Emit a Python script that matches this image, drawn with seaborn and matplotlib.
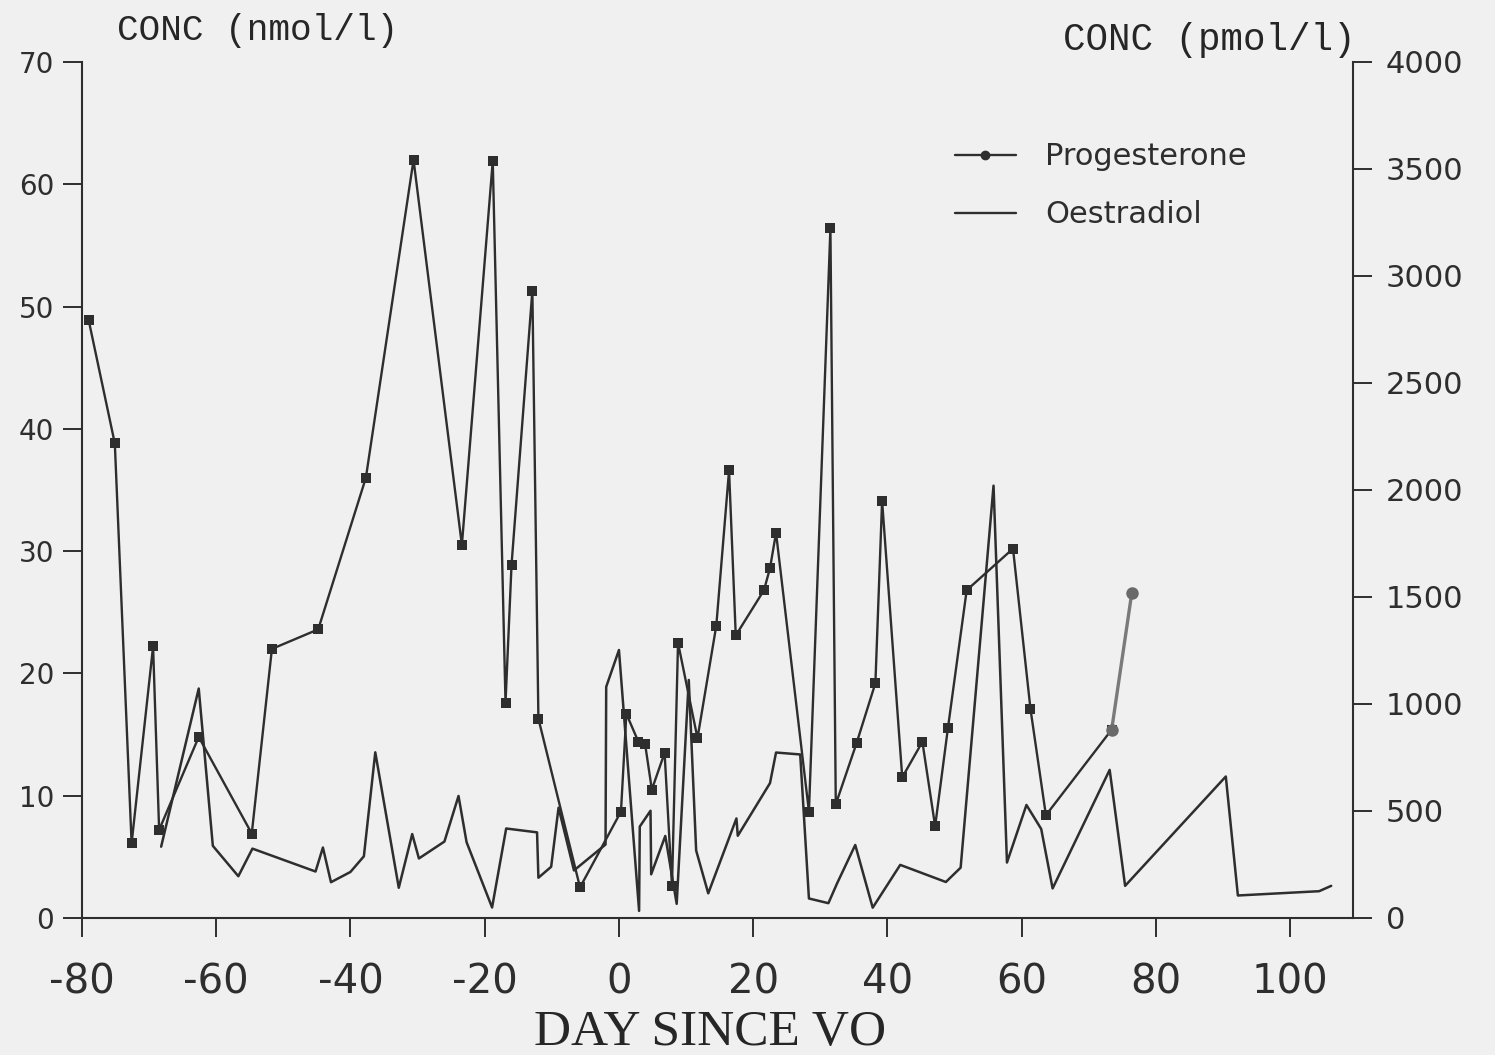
import matplotlib
matplotlib.use("Agg")
import matplotlib.pyplot as plt
import pandas as pd
import seaborn as sns
from matplotlib.lines import Line2D

# Progesterone, nmol/l, against day since VO
prog_day = [-79, -75.1, -72.6, -69.4, -68.5, -62.6, -54.7, -51.7, -44.8, -37.7,
            -30.6, -23.4, -18.8, -16.9, -16.0, -12.9, -12.0, -5.8, 0.3, 1.1,
            2.9, 3.9, 4.9, 6.8, 7.9, 8.8, 11.7, 14.5, 16.4, 17.4,
            21.6, 22.5, 23.4, 28.3, 31.5, 32.3, 35.4, 38.2, 39.2, 42.2,
            45.2, 47.1, 49.0, 51.8, 58.7, 61.3, 63.6, 73.4, 76.4]
prog_val = [48.9, 38.8, 6.1, 22.2, 7.2, 14.8, 6.9, 22.0, 23.6, 36.0,
            62.0, 30.5, 61.9, 17.6, 28.9, 51.3, 16.3, 2.5, 8.7, 16.7,
            14.4, 14.2, 10.5, 13.5, 2.6, 22.5, 14.7, 23.9, 36.6, 23.1,
            26.8, 28.6, 31.5, 8.7, 56.4, 9.3, 14.3, 19.2, 34.1, 11.5,
            14.4, 7.5, 15.5, 26.8, 30.2, 17.1, 8.4, 15.4, 26.6]

# Oestradiol, pmol/l, against day since VO
oest_day = [-68.2, -62.6, -60.5, -56.7, -54.6, -45.2, -44.1, -42.9, -40.0, -38.0,
            -36.3, -32.8, -30.8, -29.8, -26.0, -23.9, -22.7, -18.9, -16.8, -12.2,
            -12.0, -10.1, -9.0, -6.7, -2.0, -1.9, 0.0, 3.0, 3.1, 4.7,
            4.8, 6.9, 8.6, 10.4, 11.5, 13.3, 17.5, 17.7, 22.5, 23.4,
            27.0, 28.3, 31.2, 32.5, 35.2, 37.8, 41.9, 48.7, 50.9, 55.8,
            57.8, 60.7, 62.9, 64.6, 73.1, 75.4, 90.4, 92.2, 104.3, 106.1]
oest_val = [333, 1072, 337, 195, 324, 217, 329, 167, 215, 288,
            774, 141, 392, 278, 357, 570, 354, 49, 418, 400,
            188, 239, 515, 222, 343, 1080, 1252, 33, 427, 501,
            204, 383, 66, 1112, 315, 115, 465, 384, 630, 773,
            764, 91, 69, 162, 341, 48, 248, 168, 235, 2020,
            259, 528, 416, 138, 692, 150, 661, 105, 125, 150]

x_ticks = [-80, -60, -40, -20, 0, 20, 40, 60, 80, 100]
left_ticks = [0, 10, 20, 30, 40, 50, 60, 70]
right_ticks = [0, 500, 1000, 1500, 2000, 2500, 3000, 3500, 4000]

prog = pd.DataFrame({"day": prog_day, "conc": prog_val})
oest = pd.DataFrame({"day": oest_day, "conc": oest_val})

INK = "#2e2e2e"
PAPER = "#f0f0f0"

sns.set_theme(style="ticks")
plt.rcParams["font.family"] = ["DejaVu Sans"]
plt.rcParams["axes.edgecolor"] = INK
plt.rcParams["xtick.color"] = INK
plt.rcParams["ytick.color"] = INK
plt.rcParams["text.color"] = INK

fig = plt.figure(figsize=(14.95, 10.55), dpi=100, facecolor=PAPER)
ax = fig.add_axes([0.0548, 0.1299, 0.850, 0.8114])
ax.set_facecolor(PAPER)
ax2 = ax.twinx()

# progesterone: dark run, then the last segment in lighter ink
sns.lineplot(data=prog.iloc[:-1], x="day", y="conc", ax=ax, sort=False,
             estimator=None, color=INK, lw=1.7, marker="s", markersize=6.5,
             markeredgewidth=0, markerfacecolor=INK)
sns.lineplot(data=prog.iloc[-2:], x="day", y="conc", ax=ax, sort=False,
             estimator=None, color="#7a7a7a", lw=2.4, marker="o",
             markersize=9, markeredgewidth=0, markerfacecolor="#6a6a6a")

sns.lineplot(data=oest, x="day", y="conc", ax=ax2, sort=False,
             estimator=None, color=INK, lw=1.8)

ax.set_xlim(-80, 109.3)
ax.set_ylim(0, 70)
ax2.set_ylim(0, 4000)

ax.set_xticks(x_ticks)
ax.set_xticklabels([str(v) for v in x_ticks], fontsize=29)
ax.set_yticks(left_ticks)
ax.set_yticklabels([str(v) for v in left_ticks], fontsize=20)
ax2.set_yticks(right_ticks)
ax2.set_yticklabels([str(v) for v in right_ticks], fontsize=22)

ax.tick_params(axis="x", direction="out", length=14, width=1.4, pad=18)
ax.tick_params(axis="y", direction="out", length=14, width=1.4, pad=6)
ax2.tick_params(axis="y", direction="out", length=14, width=1.4, pad=10)

for a in (ax, ax2):
    a.spines["top"].set_visible(False)
    for s in ("left", "right", "bottom"):
        a.spines[s].set_linewidth(1.5)
ax.spines["right"].set_visible(False)
ax2.spines["left"].set_visible(False)
ax2.spines["bottom"].set_visible(False)

ax.set_xlabel("DAY SINCE VO", family=["Liberation Serif", "DejaVu Serif"],
              fontsize=37, va="center", ha="center")
ax.xaxis.set_label_coords(0.494, -0.134)
ax.set_ylabel("CONC (nmol/l)", rotation=0, family=["Liberation Mono"],
              fontsize=26, va="center", ha="center")
ax.yaxis.set_label_coords(0.138, 1.037)
ax2.set_ylabel("CONC (pmol/l)", rotation=0, family=["Liberation Mono"],
               fontsize=27, va="center", ha="center")
ax2.yaxis.set_label_coords(0.887, 1.026)

handles = [Line2D([], [], color=INK, lw=1.7, marker="o", markersize=6),
           Line2D([], [], color=INK, lw=1.7)]
ax.legend(handles, ["Progesterone", "Oestradiol"], loc="upper left",
          bbox_to_anchor=(0.687, 0.906), frameon=False, fontsize=22,
          numpoints=1, handlelength=2.0, handletextpad=0.95,
          labelspacing=0.95, borderpad=0, borderaxespad=0)

fig.savefig("out.png", dpi=100, facecolor=PAPER)
